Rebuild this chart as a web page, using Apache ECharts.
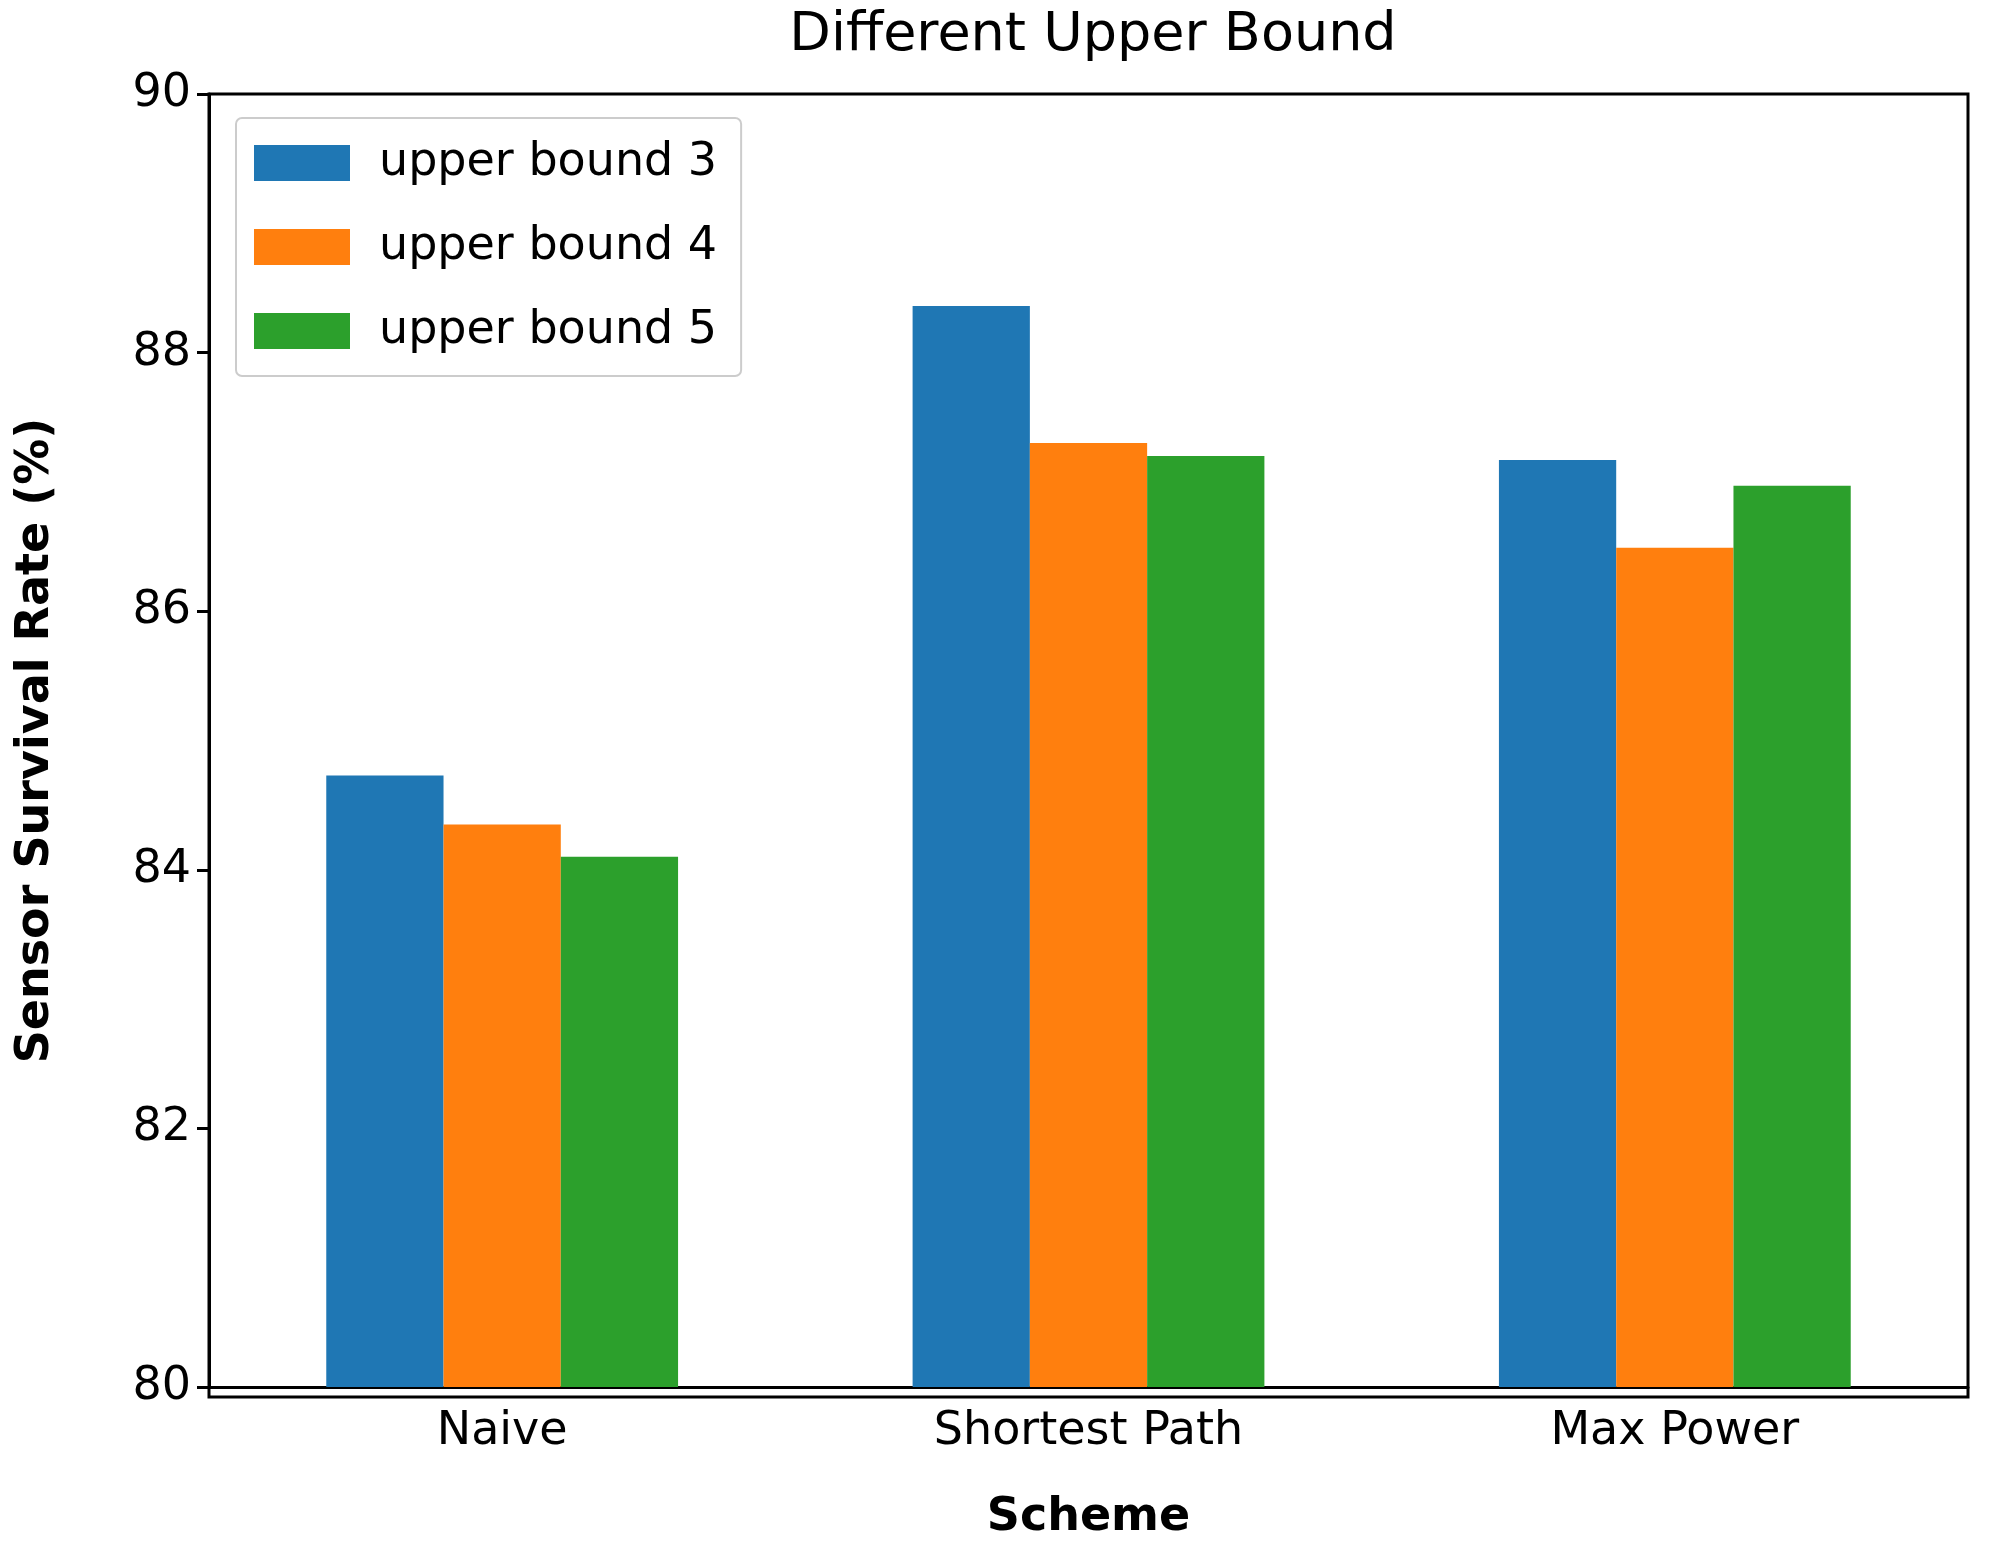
<!DOCTYPE html>
<html>
<head>
<meta charset="utf-8">
<script src="https://cdn.jsdelivr.net/npm/echarts@6/dist/echarts.min.js"></script>
<style>html,body{margin:0;background:#fff}#chart{width:2000px;height:1546px}</style>
</head>
<body>
<div id="chart"></div>
<script>
const categories = ['Naive', 'Shortest Path', 'Max Power'];
const seriesNames = ['upper bound 3', 'upper bound 4', 'upper bound 5'];
const bound3 = [84.73, 88.36, 87.17];
const bound4 = [84.35, 87.30, 86.49];
const bound5 = [84.10, 87.20, 86.97];
const colors = ['#1f77b4', '#ff7f0e', '#2ca02c'];

const font = 'DejaVu Sans';
const chart = echarts.init(document.getElementById('chart'));
chart.setOption({
  animation: false,
  title: {
    text: 'Different Upper Bound', left: 1088, top: 4, textAlign: 'center',
    textStyle: { fontFamily: font, fontSize: 54, fontWeight: 'normal', color: '#000' }
  },
  legend: {
    left: 236, top: 118, orient: 'vertical', itemWidth: 96, itemHeight: 36, itemGap: 38,
    padding: [22, 24, 22, 18], borderColor: '#ccc', borderWidth: 2, borderRadius: 6,
    textStyle: { fontFamily: font, fontSize: 46, color: '#000', padding: [0, 0, 0, 24] },
    icon: 'rect'
  },
  grid: { left: 209, right: 32, top: 94, bottom: 149 },
  xAxis: {
    type: 'category', data: categories,
    name: 'Scheme', nameLocation: 'middle', nameGap: 108,
    nameTextStyle: { fontFamily: font, fontSize: 46, fontWeight: 'bold', color: '#000' },
    axisLine: { lineStyle: { color: '#000', width: 3 } },
    axisTick: { alignWithLabel: true, length: 12, lineStyle: { width: 3 } },
    axisLabel: { fontFamily: font, fontSize: 46, color: '#000', margin: 22 }
  },
  yAxis: {
    type: 'value', min: 80, max: 90, interval: 2,
    name: 'Sensor Survival Rate (%)', nameLocation: 'middle', nameGap: 150,
    nameTextStyle: { fontFamily: font, fontSize: 46, fontWeight: 'bold', color: '#000' },
    axisLine: { show: true, lineStyle: { color: '#000', width: 3 } },
    axisTick: { show: true, length: 12, lineStyle: { width: 3 } },
    axisLabel: { fontFamily: font, fontSize: 46, color: '#000', margin: 18 },
    splitLine: { show: false }
  },
  series: [bound3, bound4, bound5].map((d, i) => ({
    name: seriesNames[i], type: 'bar', data: d,
    barGap: '0%', barCategoryGap: '40%',
    itemStyle: { color: colors[i] }
  }))
});
// box frame (top/right spines)
chart.setOption({
  graphic: [{
    type: 'rect', z: 100, silent: true,
    shape: { x: 209, y: 94, width: 2000 - 209 - 32, height: 1546 - 94 - 149 },
    style: { fill: 'none', stroke: '#000', lineWidth: 3 }
  }]
});
</script>
</body>
</html>
